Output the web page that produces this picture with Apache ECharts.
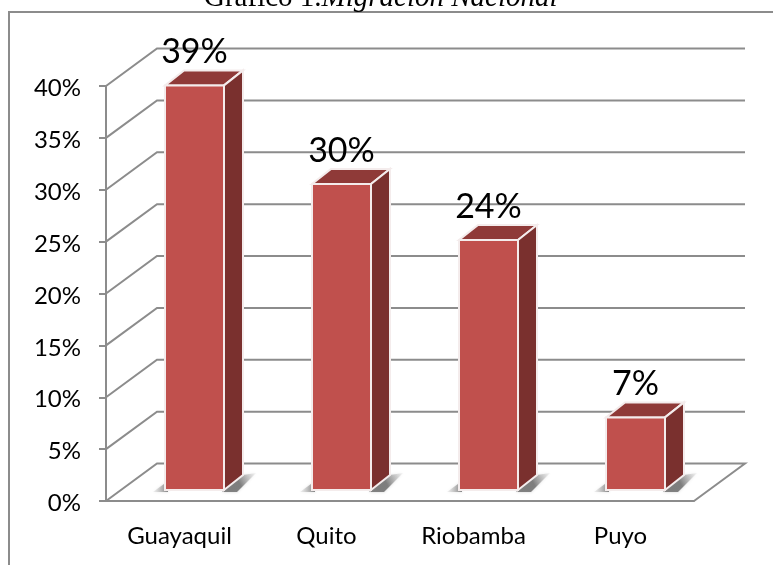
<!DOCTYPE html>
<html>
<head>
<meta charset="utf-8">
<style>
html, body { margin: 0; padding: 0; background: #fff; }
#chart { width: 773px; height: 565px; }
</style>
<script src="https://cdn.jsdelivr.net/npm/echarts@6/dist/echarts.min.js"></script>
</head>
<body>
<div id="chart"></div>
<script>
var categories = ['Guayaquil', 'Quito', 'Riobamba', 'Puyo'];
var barValues = [39, 29.5, 24.1, 7];
var barLabels = ['39%', '30%', '24%', '7%'];
var gridValues = [0, 5, 10, 15, 20, 25, 30, 35, 40];

// fake 3d offsets, in px
var wallDx = 51, wallDy = -37.5;
var barDx = 15, barDy = -11;
var sideDx = 19, sideDy = -15;
var barWidth = 59;
var axisColor = '#8c8c8c';

var chart = echarts.init(document.getElementById('chart'));

function wallItem(params, api) {
    var v = api.value(0);
    var front = api.coord([0, v]);
    var left = params.coordSys.x;
    var right = left + params.coordSys.width;
    var y = front[1];
    var style = { fill: 'none', stroke: axisColor, lineWidth: 2 };
    var points = [[left, y], [left + wallDx, y + wallDy], [right + wallDx, y + wallDy]];
    if (v === 0) {
        points.push([right, y]);
    }
    return { type: 'polyline', shape: { points: points }, style: style, silent: true };
}

function barItem(params, api) {
    var i = api.value(0);
    var center = api.coord([i, 0]);
    var top = api.coord([i, api.value(1)]);
    var x0 = center[0] - barWidth / 2 + barDx;
    var x1 = x0 + barWidth;
    var y0 = center[1] + barDy;
    var y1 = top[1] + barDy;
    var edge = { stroke: '#f4ecec', lineWidth: 2 };
    var shade = 'rgba(105,105,105,0.8)';
    return {
        type: 'group',
        children: [{
            // floor shadow, right of the bar
            type: 'polygon',
            shape: { points: [
                [x1 - 2, y0 + 2], [x1 + sideDx, y0 + sideDy], [x1 + sideDx + 13, y0 + sideDy - 2], [x1 + 13, y0 + 2]
            ] },
            style: {
                fill: new echarts.graphic.LinearGradient(0, 1, 1, 0, [
                    { offset: 0, color: shade },
                    { offset: 0.5, color: shade },
                    { offset: 1, color: 'rgba(190,190,190,0.15)' }
                ]),
                shadowBlur: 3,
                shadowColor: 'rgba(140,140,140,0.5)'
            }
        }, {
            // floor shadow, left of the bar
            type: 'polygon',
            shape: { points: [[x0 - 12, y0 + 2], [x0 + 3, y0 - 9], [x0 + 3, y0 + 2]] },
            style: {
                fill: new echarts.graphic.LinearGradient(0, 0, 1, 0, [
                    { offset: 0, color: 'rgba(190,190,190,0.2)' },
                    { offset: 1, color: shade }
                ]),
                shadowBlur: 3,
                shadowColor: 'rgba(140,140,140,0.4)'
            }
        }, {
            type: 'polygon',
            shape: { points: [[x0, y1], [x1, y1], [x1 + sideDx, y1 + sideDy], [x0 + sideDx, y1 + sideDy]] },
            style: Object.assign({ fill: '#8f3a38' }, edge)
        }, {
            type: 'polygon',
            shape: { points: [[x1, y1], [x1 + sideDx, y1 + sideDy], [x1 + sideDx, y0 + sideDy], [x1, y0]] },
            style: Object.assign({ fill: '#7a302e' }, edge)
        }, {
            type: 'rect',
            shape: { x: x0, y: y1, width: barWidth, height: y0 - y1 },
            style: Object.assign({ fill: '#c0504d' }, edge)
        }, {
            type: 'text',
            style: {
                x: (x0 + x1) / 2,
                y: y1 + sideDy - 1,
                text: barLabels[i],
                fill: '#000',
                font: '34px Lato',
                align: 'center',
                verticalAlign: 'bottom'
            }
        }]
    };
}

var option = {
    animation: false,
    backgroundColor: '#fff',
    title: {
        left: 199,
        top: -21,
        text: '{a|Gráfico 1.}{b|Migración Nacional}',
        textStyle: {
            rich: {
                a: { fontFamily: 'Liberation Serif', fontSize: 29, fontWeight: 'normal', color: '#000' },
                b: { fontFamily: 'Liberation Serif', fontSize: 29, fontWeight: 'normal', fontStyle: 'italic', color: '#000' }
            }
        }
    },
    graphic: [{
        type: 'rect',
        silent: true,
        shape: { x: 9, y: 12, width: 780, height: 600 },
        style: { fill: 'none', stroke: axisColor, lineWidth: 2 }
    }],
    grid: { left: 106, right: 79, top: 86, bottom: 64 },
    xAxis: {
        type: 'category',
        data: categories,
        axisLine: { lineStyle: { color: axisColor, width: 2 } },
        axisTick: { alignWithLabel: false, length: 7, lineStyle: { color: axisColor, width: 2 } },
        axisLabel: { color: '#000', fontFamily: 'Lato', fontSize: 24, margin: 23 }
    },
    yAxis: {
        type: 'value',
        min: 0,
        max: 40,
        interval: 5,
        splitLine: { show: false },
        axisLine: { show: true, lineStyle: { color: axisColor, width: 2 } },
        axisTick: { show: true, length: 7, lineStyle: { color: axisColor, width: 2 } },
        axisLabel: {
            margin: 25,
            formatter: '{v|{value}%}',
            rich: {
                v: { color: '#000', fontFamily: 'Lato', fontSize: 24, padding: [5, 0, 0, 0] }
            }
        }
    },
    series: [{
        type: 'custom',
        coordinateSystem: 'cartesian2d',
        data: gridValues.map(function(v) { return [v]; }),
        encode: { y: 0 },
        renderItem: wallItem,
        z: 1
    }, {
        type: 'custom',
        coordinateSystem: 'cartesian2d',
        data: barValues.map(function(v, i) { return [i, v]; }),
        encode: { x: 0, y: 1 },
        renderItem: barItem,
        z: 5
    }]
};

chart.setOption(option);
</script>
</body>
</html>
